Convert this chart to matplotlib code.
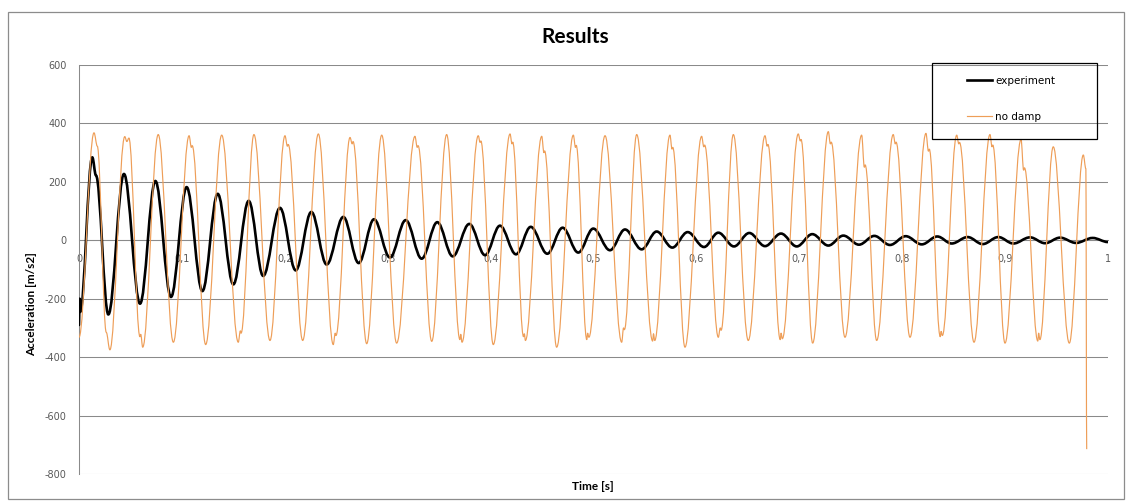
import matplotlib
matplotlib.use("Agg")
import matplotlib.pyplot as plt
from matplotlib.path import Path
from matplotlib.patches import PathPatch, Rectangle
from matplotlib.lines import Line2D

# extrema (time [s], acceleration [m/s2])
exp_t = [0.0, 0.0006, 0.0012, 0.0129, 0.0165, 0.0285, 0.0437, 0.0593, 0.0742, 0.0894,
         0.1046, 0.1199, 0.1348, 0.150, 0.1649, 0.179, 0.1953, 0.2106, 0.2258, 0.2407,
         0.2569, 0.2718, 0.2867, 0.3022, 0.3175, 0.333, 0.3482, 0.3632, 0.3793, 0.3946,
         0.4091, 0.4247, 0.439, 0.4551, 0.470, 0.4852, 0.4998, 0.516, 0.5306, 0.5468,
         0.5614, 0.5766, 0.5915, 0.6074, 0.6213, 0.6365, 0.6514, 0.6667, 0.6822, 0.6975,
         0.7126, 0.7282, 0.7428, 0.758, 0.7729, 0.7881, 0.8034, 0.819, 0.8341, 0.8481,
         0.8636, 0.8782, 0.8934, 0.908, 0.9242, 0.9388, 0.9534, 0.9689, 0.9851, 1.0]
exp_v = [-290, -200, -245, 284, 222, -254, 227, -217, 203, -194,
         182, -174, 159, -151, 135, -122, 111, -103, 97, -83,
         80, -78, 72, -59, 69, -63, 62, -55, 56, -51,
         50, -48, 46, -46, 43, -42, 40, -34, 37, -31,
         30, -25, 28, -23, 26, -21, 25, -20, 23, -21,
         21, -18, 16, -15, 15, -16, 14, -14, 13, -11,
         11, -13, 11, -11, 10, -10, 9, -9, 8, -6]

# peaks, troughs and the small notches of the undamped signal
nodamp_t = [0.0, 0.0146, 0.0178, 0.0265, 0.030, 0.0445, 0.0465, 0.0485,
            0.0592, 0.0600, 0.0619, 0.077, 0.0917, 0.107, 0.1092, 0.1100, 0.1231,
            0.1387, 0.1548, 0.1568, 0.1575, 0.170, 0.1856, 0.2002, 0.2025, 0.2033,
            0.2174, 0.2326, 0.2471, 0.2490, 0.2497, 0.2634, 0.2655, 0.2663, 0.2796,
            0.2942, 0.3087, 0.3265, 0.3287, 0.3295, 0.3428, 0.3573,
            0.3702, 0.3710, 0.3722, 0.388, 0.3898, 0.3905, 0.4026, 0.4189, 0.4208, 0.4215,
            0.4320, 0.4328, 0.4338, 0.4497, 0.4518, 0.4525, 0.4642, 0.4804, 0.4825, 0.4832,
            0.4935, 0.4943, 0.4955, 0.5112, 0.5274, 0.5292, 0.5300, 0.542,
            0.5575, 0.5583, 0.5595, 0.5743, 0.5763, 0.5770, 0.5889, 0.6051, 0.6072, 0.6080,
            0.6213, 0.6232, 0.6240, 0.6359, 0.6504, 0.6667, 0.6688, 0.6695,
            0.6815, 0.6823, 0.6835, 0.699, 0.7010, 0.7017, 0.713, 0.7282, 0.7302, 0.7310,
            0.7444, 0.7606, 0.7632, 0.7640, 0.7752, 0.7913, 0.7933, 0.7940, 0.8076,
            0.8231, 0.8255, 0.8263, 0.8370, 0.8378, 0.8390, 0.853, 0.8550, 0.8557,
            0.8698, 0.8853, 0.8873, 0.8880, 0.8999, 0.9155, 0.9180, 0.9188,
            0.9318, 0.9326, 0.9338, 0.9468, 0.9624, 0.9760, 0.9785, 0.9793]
nodamp_v = [-332, 368, 322, -315, -375, 355, 338, 350,
            -330, -322, -366, 362, -349, 358, 318, 324, -357,
            360, -349, -310, -318, 362, -343, 358, 322, 328,
            -343, 364, -357, -318, -326, 352, 330, 338, -354,
            360, -352, 356, 318, 324, -346, 362,
            -340, -322, -349, 358, 335, 340, -357, 364, 330, 336,
            -330, -320, -343, 356, 300, 306, -366, 360, 318, 325,
            -340, -318, -332, 358, -349, -300, -306, 362,
            -345, -320, -343, 360, 312, 318, -366, 356, 320, 326,
            -332, -300, -308, 362, -343, 358, 322, 328,
            -340, -318, -337, 364, 340, 345, -352, 372, 330, 336,
            -332, 360, 250, 258, -343, 362, 330, 336, -332,
            366, 305, 312, -330, -312, -326, 360, 330, 335,
            -349, 362, 320, 326, -352, 345, 240, 248,
            -345, -318, -340, 320, -352, 292, 245, -715]

xtick_vals = [0.0, 0.1, 0.2, 0.3, 0.4, 0.5, 0.6, 0.7, 0.8, 0.9, 1.0]
xtick_labels = ["0", "0,1", "0,2", "0,3", "0,4", "0,5", "0,6", "0,7", "0,8", "0,9", "1"]
ytick_vals = [-800, -600, -400, -200, 0, 200, 400, 600]

BLACK = "#000000"
ORANGE = "#EE9E58"
GRID = "#8a8a8a"
TXT = "#595959"


def smooth_path(ts, vs):
    # cubic segments with flat tangents at each read extremum (like Excel's smoothed line)
    verts = [(ts[0], vs[0])]
    codes = [Path.MOVETO]
    for i in range(1, len(ts)):
        d = (ts[i] - ts[i - 1]) * 0.364
        verts += [(ts[i - 1] + d, vs[i - 1]), (ts[i] - d, vs[i]), (ts[i], vs[i])]
        codes += [Path.CURVE4] * 3
    return Path(verts, codes)


fig = plt.figure(figsize=(11.32, 5.03), dpi=100)
ax = fig.add_axes([79 / 1132, 1 - 474 / 503, 1029 / 1132, 409 / 503])

ax.add_patch(PathPatch(smooth_path(exp_t, exp_v), facecolor="none", edgecolor=BLACK,
                       lw=1.9, zorder=3, capstyle="round", joinstyle="round"))
ax.add_patch(PathPatch(smooth_path(nodamp_t, nodamp_v), facecolor="none", edgecolor=ORANGE,
                       lw=0.85, zorder=4, joinstyle="round"))

ax.set_xlim(0, 1)
ax.set_ylim(-800, 600)
ax.set_xticks(xtick_vals)
ax.set_xticklabels(xtick_labels)
ax.set_yticks(ytick_vals)
ax.set_yticklabels([str(v) for v in ytick_vals])

ax.spines["bottom"].set_position(("data", 0))
ax.spines["bottom"].set_color(GRID)
ax.spines["bottom"].set_linewidth(0.75)
ax.spines["left"].set_color(GRID)
ax.spines["left"].set_linewidth(0.75)
ax.spines["top"].set_visible(False)
ax.spines["right"].set_visible(False)
ax.yaxis.grid(True, color=GRID, lw=0.75)
ax.set_axisbelow(True)
ax.tick_params(axis="x", length=0, pad=10, labelsize=7, labelcolor=TXT)
ax.tick_params(axis="y", length=0, pad=9, labelsize=7, labelcolor=TXT)

fig.text(575 / 1132, 1 - 37 / 503, "Results", ha="center", va="center",
         family="Lato", weight="bold", fontsize=15)
fig.text(32 / 1132, 1 - 304 / 503, "Acceleration [m/s2]", rotation=90, ha="center",
         va="center", family="Lato", weight="bold", fontsize=8.5)
fig.text(593 / 1132, 1 - 486 / 503, "Time [s]", ha="center", va="center",
         family="Lato", weight="bold", fontsize=8.5)

# legend box (no fill, like the reference) and entries
fig.patches.append(Rectangle((932 / 1132, 1 - 139 / 503), 165 / 1132, 76 / 503,
                             transform=fig.transFigure, facecolor="none",
                             edgecolor="black", lw=0.9, zorder=5))
handles = [Line2D([], [], color=BLACK, lw=1.9), Line2D([], [], color=ORANGE, lw=0.85)]
leg = fig.legend(handles, ["experiment", "no damp"], loc="upper left",
                 bbox_to_anchor=(967 / 1132, 1 - 76 / 503), frameon=False,
                 borderpad=0, borderaxespad=0, handlelength=2.4, handletextpad=0.3,
                 labelspacing=2.45, fontsize=7.5)
leg.set_zorder(6)

# chart area border
fig.patches.append(Rectangle((8 / 1132, 1 - 499 / 503), 1116 / 1132, 487 / 503,
                             transform=fig.transFigure, facecolor="none",
                             edgecolor="#8c8c8c", lw=0.9))

fig.savefig("out.png", dpi=100)
